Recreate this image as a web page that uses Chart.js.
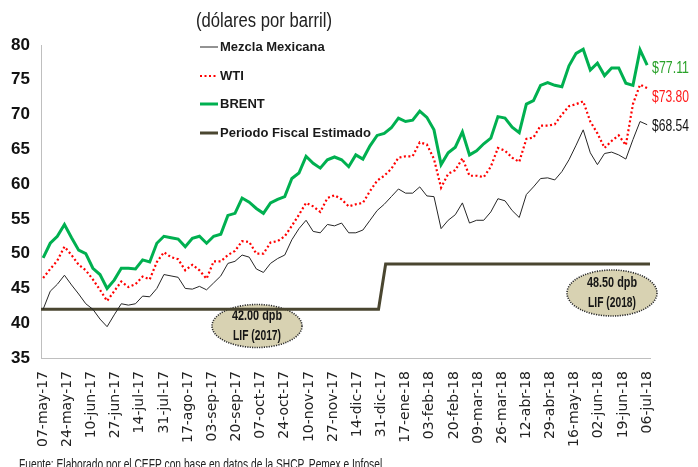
<!DOCTYPE html>
<html>
<head>
<meta charset="utf-8">
<script src="https://cdn.jsdelivr.net/npm/chart.js@4.4.1/dist/chart.umd.min.js"></script>
<style>
  html, body { margin: 0; padding: 0; background: #fff; }
  #chart { display: block; }
</style>
</head>
<body>
<canvas id="chart" width="698" height="467"></canvas>
<script>
// Precios del petróleo (dólares por barril), may-2017 a jul-2018
// x = días desde 07-may-17

const days = [
  0, 5, 10, 15, 20, 25, 30, 35, 40, 45,
  50, 55, 60, 65, 70, 75, 80, 85, 90, 95,
  100, 105, 110, 115, 120, 125, 130, 135, 140, 145,
  150, 155, 160, 165, 170, 175, 180, 185, 190, 195,
  200, 205, 210, 215, 220, 225, 230, 235, 240, 245,
  250, 255, 260, 265, 270, 275, 280, 285, 290, 295,
  300, 305, 310, 315, 320, 325, 330, 335, 340, 345,
  350, 355, 360, 365, 370, 375, 380, 385, 390, 395,
  400, 405, 410, 415, 420, 425
];

const mezcla = [
  42.0, 44.6, 45.6, 46.9, 45.5, 44.2, 42.8, 42.0, 40.6, 39.5,
  41.2, 42.8, 42.6, 42.8, 43.9, 43.8, 45.0, 47.0, 46.8, 46.6,
  45.0, 44.9, 45.3, 44.8, 45.8, 46.8, 48.6, 48.9, 49.8, 49.5,
  47.8, 47.3, 48.6, 49.3, 49.8, 52.0, 53.6, 54.8, 53.2, 53.0,
  54.2, 54.0, 54.4, 53.0, 53.0, 53.4, 54.8, 56.2, 57.1, 58.2,
  59.3, 58.7, 58.7, 59.6, 58.3, 58.2, 53.6, 54.8, 55.6, 57.3,
  54.4, 54.8, 54.8, 56.0, 57.9, 57.6, 56.2, 55.2, 58.5, 59.6,
  60.8, 60.9, 60.6, 61.8, 63.5, 65.6, 67.8, 64.5, 62.8, 64.4,
  64.6, 64.2, 63.6, 66.4, 69.0, 68.54
];

const wti = [
  46.5, 47.8, 49.0, 51.0, 49.8, 48.4, 47.6, 46.3, 44.8, 43.2,
  44.6, 46.0, 45.2, 45.6, 46.7, 46.3, 48.8, 50.2, 49.5, 49.2,
  47.6, 48.4, 47.6, 46.4, 48.9, 48.9, 49.8, 50.4, 51.8, 51.7,
  50.0, 50.0, 51.6, 51.8, 52.5, 54.0, 55.6, 57.3, 56.8, 56.0,
  58.0, 58.4, 57.8, 56.8, 57.1, 57.3, 59.0, 60.5, 61.2, 62.2,
  63.8, 64.0, 64.0, 66.0, 65.7, 63.6, 59.5, 61.5, 62.0, 63.7,
  61.2, 61.2, 61.0, 62.5, 65.2, 64.8, 63.8, 63.2, 66.5, 66.7,
  68.4, 68.4, 68.6, 70.0, 71.2, 71.5, 71.9, 69.0, 67.3, 65.2,
  66.2, 67.0, 65.6, 71.5, 74.3, 73.8
];

const brent = [
  49.4, 51.5, 52.5, 54.2, 52.3, 50.5, 50.0, 47.9, 47.0, 45.0,
  46.2, 47.9, 47.9, 47.8, 49.1, 48.8, 51.5, 52.5, 52.3, 52.1,
  51.0, 52.2, 52.5, 51.5, 52.5, 52.8, 55.5, 55.8, 58.0, 57.4,
  56.5, 55.8, 57.3, 57.8, 58.2, 60.8, 61.6, 64.0, 63.0, 62.3,
  63.5, 63.9, 63.5, 62.5, 64.2, 63.6, 65.5, 67.0, 67.3, 68.1,
  69.5, 69.0, 69.2, 70.5, 69.6, 67.8, 62.8, 64.5, 65.3, 67.5,
  64.2, 64.8, 65.8, 66.6, 69.7, 69.5, 68.2, 67.4, 71.5, 72.0,
  74.2, 74.6, 74.2, 74.0, 77.0, 78.8, 79.4, 76.4, 77.4, 75.6,
  76.7, 76.7, 74.5, 74.2, 79.3, 77.11
];

// Periodo fiscal estimado (LIF 2017 -> LIF 2018)
const fiscalDays = [-1.5, 236, 241, 427];
const fiscalValues = [42.0, 42.0, 48.5, 48.5];

const tickDays = [
  0, 17, 34, 51, 68, 85, 102, 119, 136, 153, 170, 187, 204,
  221, 238, 255, 272, 289, 306, 323, 340, 357, 374, 391, 408, 425
];
const tickLabels = [
  "07-may-17", "24-may-17", "10-jun-17", "27-jun-17", "14-jul-17", "31-jul-17",
  "17-ago-17", "03-sep-17", "20-sep-17", "07-oct-17", "24-oct-17", "10-nov-17",
  "27-nov-17", "14-dic-17", "31-dic-17", "17-ene-18", "03-feb-18", "20-feb-18",
  "09-mar-18", "26-mar-18", "12-abr-18", "29-abr-18", "16-may-18", "02-jun-18",
  "19-jun-18", "06-jul-18"
];

const seriesNames = ["Mezcla Mexicana", "WTI", "BRENT", "Periodo Fiscal Estimado"];
const endLabels = ["$77.11", "$73.80", "$68.54"];
const boxLabels = [["42.00 dpb", "LIF (2017)"], ["48.50 dpb", "LIF (2018)"]];

const NARROW = "'Liberation Sans Narrow', 'Arial Narrow', sans-serif";

function pts(xs, ys) {
  return xs.map((x, i) => ({ x, y: ys[i] }));
}

function ellipse(ctx, cx, cy, rx, ry, lines) {
  ctx.save();
  ctx.beginPath();
  ctx.ellipse(cx, cy, rx, ry, 0, 0, Math.PI * 2);
  ctx.fillStyle = "#d8d2b2";
  ctx.fill();
  ctx.setLineDash([1.2, 1.2]);
  ctx.lineWidth = 1.6;
  ctx.strokeStyle = "#2b2b2b";
  ctx.stroke();
  ctx.setLineDash([]);
  ctx.fillStyle = "#151515";
  ctx.font = "bold 14px " + NARROW;
  ctx.textAlign = "center";
  ctx.textBaseline = "middle";
  ctx.fillText(lines[0], cx, cy - 10, 50);
  ctx.fillText(lines[1], cx, cy + 10, 48);
  ctx.restore();
}

const overlay = {
  id: "overlay",
  beforeDatasetsDraw(chart) {
    const ctx = chart.ctx;
    ellipse(ctx, 257, 326, 45, 21.5, boxLabels[0]);
    ellipse(ctx, 612, 293, 45, 23, boxLabels[1]);
  },
  afterDraw(chart) {
    const ctx = chart.ctx;
    ctx.save();

    // title
    ctx.fillStyle = "#222";
    ctx.font = "20px " + NARROW;
    ctx.textBaseline = "middle";
    ctx.textAlign = "left";
    ctx.fillText("(dólares por barril)", 196, 21, 136);

    // legend
    const legY = [47, 76, 104, 133];
    chart.data.datasets.forEach((ds, i) => {
      ctx.beginPath();
      ctx.strokeStyle = ds.borderColor;
      ctx.lineWidth = ds.borderWidth;
      ctx.setLineDash(ds.borderDash || []);
      ctx.moveTo(200, legY[i]);
      ctx.lineTo(218, legY[i]);
      ctx.stroke();
      ctx.setLineDash([]);
      ctx.fillStyle = "#1a1a1a";
      ctx.font = "bold 13px " + NARROW;
      ctx.fillText(seriesNames[i], 220, legY[i]);
    });

    // last values
    const endY = [68, 97, 126];
    const endColors = ["#2aa22a", "#ff1a1a", "#111"];
    ctx.font = "17px " + NARROW;
    endLabels.forEach((t, i) => {
      ctx.fillStyle = endColors[i];
      ctx.fillText(t, 652, endY[i], 37);
    });

    // source
    ctx.fillStyle = "#222";
    ctx.font = "14px " + NARROW;
    ctx.textBaseline = "alphabetic";
    ctx.fillText("Fuente: Elaborado por el CEFP con base en datos de la SHCP, Pemex e Infosel.", 19, 469, 366);

    ctx.restore();
  }
};

new Chart(document.getElementById("chart"), {
  type: "line",
  data: {
    datasets: [
      {
        label: seriesNames[0],
        data: pts(days, mezcla),
        borderColor: "#262626",
        borderWidth: 1,
        pointRadius: 0
      },
      {
        label: seriesNames[1],
        data: pts(days, wti),
        borderColor: "#ff0000",
        borderWidth: 2.2,
        borderDash: [2, 2.5],
        pointRadius: 0
      },
      {
        label: seriesNames[2],
        data: pts(days, brent),
        borderColor: "#00b050",
        borderWidth: 3,
        pointRadius: 0
      },
      {
        label: seriesNames[3],
        data: pts(fiscalDays, fiscalValues),
        borderColor: "#4a4630",
        borderWidth: 3,
        pointRadius: 0
      }
    ]
  },
  options: {
    responsive: false,
    animation: false,
    layout: { padding: { top: 45, right: 48, left: 0, bottom: 0 } },
    plugins: {
      legend: { display: false },
      tooltip: { enabled: false }
    },
    scales: {
      x: {
        type: "linear",
        min: -1.5,
        max: 427,
        grid: { display: false, drawTicks: false },
        border: { color: "#bfbfbf", width: 1 },
        afterBuildTicks: (s) => { s.ticks = tickDays.map(v => ({ value: v })); },
        afterFit: (s) => { s.height = 109; },
        ticks: {
          autoSkip: false,
          minRotation: 90,
          maxRotation: 90,
          padding: 13,
          color: "#222",
          font: { family: "'DejaVu Sans'", size: 14 },
          callback: (v, i) => tickLabels[i]
        }
      },
      y: {
        min: 35,
        max: 80,
        grid: { display: false, drawTicks: false },
        border: { color: "#bfbfbf", width: 1 },
        afterFit: (s) => { s.width = 41; },
        ticks: {
          stepSize: 5,
          padding: 11,
          color: "#111",
          font: { family: NARROW, size: 17, weight: "bold" }
        }
      }
    }
  },
  plugins: [overlay]
});
</script>
</body>
</html>
